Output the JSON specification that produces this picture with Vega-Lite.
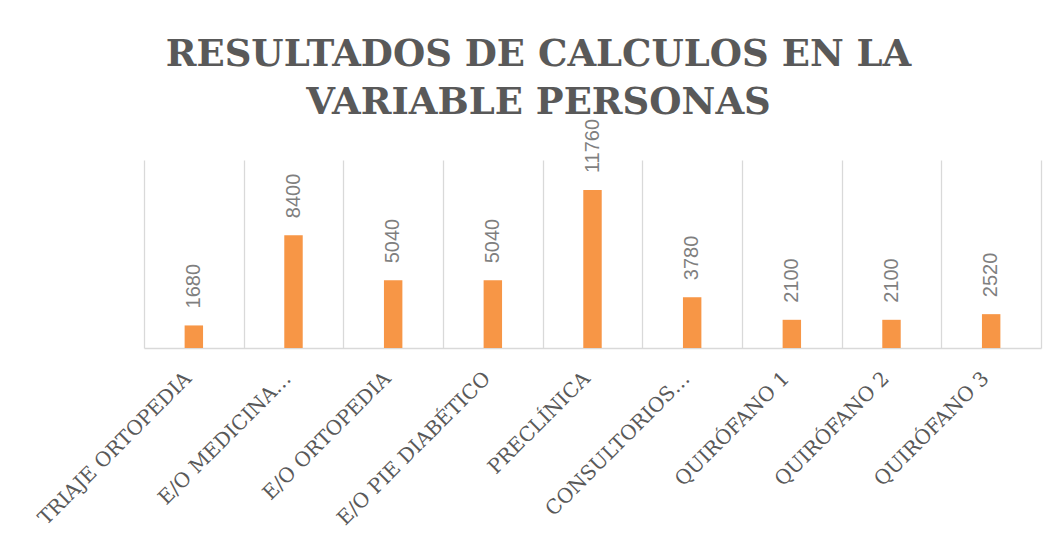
{
  "$schema": "https://vega.github.io/schema/vega-lite/v6.json",
  "width": 897,
  "height": 188,
  "autosize": {"type": "none"},
  "padding": {"left": 144, "top": 160, "right": 22, "bottom": 212},
  "background": "white",
  "config": {"view": {"stroke": null}},
  "title": {
    "text": ["RESULTADOS DE CALCULOS EN LA", "VARIABLE PERSONAS"],
    "font": "DejaVu Serif",
    "fontWeight": "bold",
    "fontSize": 37,
    "color": "#595959",
    "lineHeight": 48,
    "anchor": "middle",
    "dx": -54,
    "offset": -3
  },
  "data": {
    "values": [
      {"area": "TRIAJE ORTOPEDIA", "personas": 1680},
      {"area": "E/O MEDICINA…", "personas": 8400},
      {"area": "E/O ORTOPEDIA", "personas": 5040},
      {"area": "E/O PIE DIABÉTICO", "personas": 5040},
      {"area": "PRECLÍNICA", "personas": 11760},
      {"area": "CONSULTORIOS…", "personas": 3780},
      {"area": "QUIRÓFANO 1", "personas": 2100},
      {"area": "QUIRÓFANO 2", "personas": 2100},
      {"area": "QUIRÓFANO 3", "personas": 2520}
    ]
  },
  "encoding": {
    "x": {
      "field": "area",
      "type": "nominal",
      "sort": null,
      "scale": {"paddingInner": 0, "paddingOuter": 0},
      "axis": {
        "title": null,
        "labelAngle": -45,
        "labelAlign": "right",
        "labelBaseline": "middle",
        "labelFont": "DejaVu Serif",
        "labelFontSize": 20,
        "labelColor": "#595959",
        "labelPadding": 27,
        "labelOffset": -6,
        "labelLimit": 0,
        "ticks": false,
        "domainColor": "#d9d9d9",
        "domainWidth": 1.5,
        "grid": true,
        "gridColor": "#d9d9d9",
        "gridWidth": 1.3,
        "tickBand": "extent"
      }
    },
    "y": {
      "field": "personas",
      "type": "quantitative",
      "scale": {"domain": [0, 14000]},
      "axis": null
    }
  },
  "layer": [
    {"mark": {"type": "bar", "color": "#F79646", "width": {"band": 0.185}}},
    {
      "mark": {
        "type": "text",
        "angle": -90,
        "align": "left",
        "baseline": "middle",
        "dx": 17,
        "font": "Liberation Sans",
        "fontSize": 20,
        "color": "#7f7f7f"
      },
      "encoding": {"text": {"field": "personas", "type": "quantitative", "format": "d"}}
    }
  ]
}
